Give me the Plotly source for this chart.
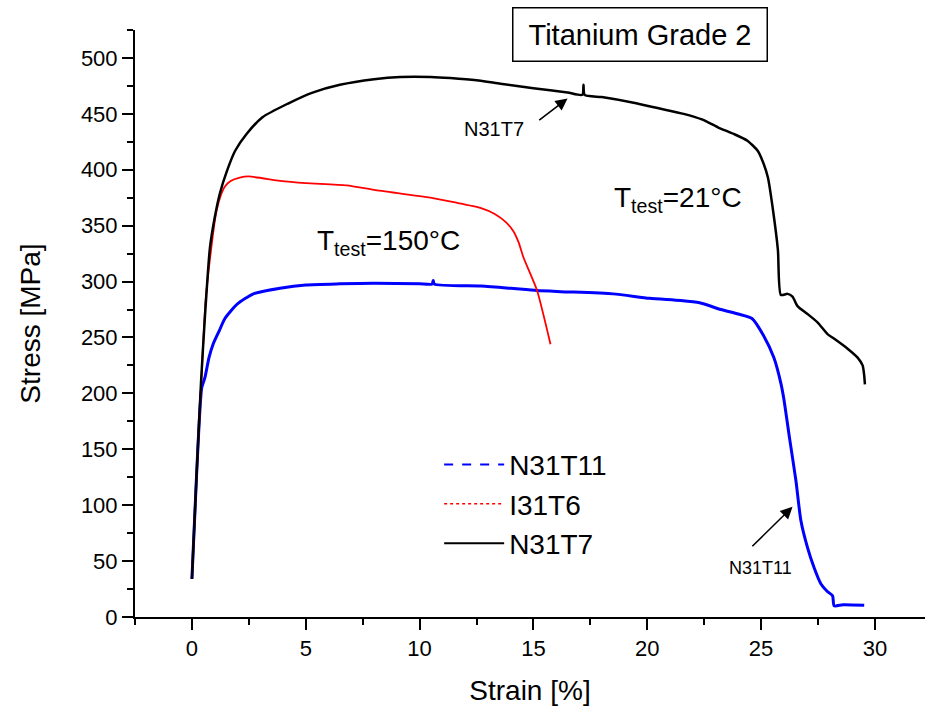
import plotly.graph_objects as go

# ---- data (strain in %, stress in MPa) ----
n31t7_strain = [0.0, 0.2, 0.4, 0.57, 0.79, 1.0, 1.23, 1.54, 1.9, 2.4, 3.1, 4.2, 5.3, 6.5, 8.0, 9.15,
                10.5, 11.35, 12.5, 13.55, 15.0, 16.5, 17.15, 17.2, 17.25, 18.0, 19.4, 20.5, 21.6, 22.4,
                23.1, 23.8, 24.4, 24.85, 25.1, 25.3, 25.55, 25.74, 25.87, 26.16, 26.38, 26.6, 27.04,
                27.48, 27.92, 28.2, 28.8, 29.24, 29.46, 29.53, 29.56]
n31t7_stress = [34, 125, 210, 268, 330, 357, 379, 399, 417, 432, 447, 459, 469, 476, 481, 483,
                483, 482, 480, 477, 473, 469, 467, 476, 467, 465, 460, 455, 450, 445,
                438, 432, 426, 417, 406, 393, 360, 328, 288, 289, 286.5, 278, 271,
                263.5, 253, 249, 240, 232, 225, 216, 208]

i31t6_strain = [0.0, 0.2, 0.4, 0.6, 0.85, 1.05, 1.25, 1.45, 1.7, 2.1, 2.5, 3.87, 5.0, 6.8, 8.0,
                10.47, 11.5, 12.67, 13.3, 13.8, 14.12, 14.35, 14.56, 15.16, 15.68, 15.75]
i31t6_stress = [34, 125, 205, 283, 330, 360, 376, 385, 390, 393, 394, 390, 388, 386, 382,
                375, 371, 366, 360.5, 353, 345, 335, 321.7, 292, 250, 244]

n31t11_strain = [0.0, 0.2, 0.43, 0.57, 0.75, 0.93, 1.2, 1.45, 2.0, 2.7, 3.87, 5.0, 6.5, 8.0, 10.0,
                 10.55, 10.6, 10.65, 12.7, 14.0, 15.16, 16.2, 18.5, 20.1, 21.47, 22.3, 23.23, 24.0,
                 24.6, 25.1, 25.56, 25.87, 26.0, 26.25, 26.53, 26.75, 27.04, 27.33, 27.63, 27.9,
                 28.14, 28.21, 28.6, 29.53]
n31t11_stress = [34, 125, 205, 214, 232, 244, 256, 267, 280, 289, 294, 297, 298, 298.5, 298,
                 297.8, 301, 297.7, 296, 294, 292, 291, 289, 285, 283, 281, 275, 271,
                 267, 252, 232, 209, 195, 160, 122, 86, 62, 44, 29.5, 23,
                 19, 10, 11, 10.5]

legend_names = ["N31T11", "I31T6", "N31T7"]
x_ticks = [0, 5, 10, 15, 20, 25, 30]
y_ticks = [0, 50, 100, 150, 200, 250, 300, 350, 400, 450, 500]

FONT = "Arial, 'Liberation Sans', sans-serif"

fig = go.Figure()

# curves (drawn solid, as they appear in the plot)
fig.add_trace(go.Scatter(x=n31t11_strain, y=n31t11_stress, mode="lines",
                         line=dict(color="#0000FF", width=3, shape="spline", smoothing=0.6),
                         showlegend=False))
fig.add_trace(go.Scatter(x=i31t6_strain, y=i31t6_stress, mode="lines",
                         line=dict(color="#FF0000", width=1.8, shape="spline", smoothing=0.6),
                         showlegend=False))
fig.add_trace(go.Scatter(x=n31t7_strain, y=n31t7_stress, mode="lines",
                         line=dict(color="#000000", width=2.5, shape="spline", smoothing=0.6),
                         showlegend=False))

# legend entries with the line styles shown in the legend
fig.add_trace(go.Scatter(x=[None], y=[None], mode="lines", name=legend_names[0],
                         line=dict(color="#0000FF", width=2, dash="dash")))
fig.add_trace(go.Scatter(x=[None], y=[None], mode="lines", name=legend_names[1],
                         line=dict(color="#FF0000", width=1.5, dash="dot")))
fig.add_trace(go.Scatter(x=[None], y=[None], mode="lines", name=legend_names[2],
                         line=dict(color="#000000", width=2)))

axis_common = dict(
    showline=True, linecolor="black", linewidth=2,
    ticks="outside", ticklen=11, tickwidth=2, tickcolor="black",
    showgrid=False, zeroline=False, mirror=False,
    tickfont=dict(family=FONT, size=22, color="black"),
)

fig.update_xaxes(range=[-2.5, 32.2], tickvals=x_ticks,
                 minor=dict(ticks="outside", ticklen=6, tickwidth=2, dtick=2.5, tick0=0,
                            tickcolor="black"),
                 title=dict(text="Strain [%]", font=dict(family=FONT, size=28, color="black"),
                            standoff=20),
                 **axis_common)
fig.update_yaxes(range=[0, 525], tickvals=y_ticks,
                 minor=dict(ticks="outside", ticklen=6, tickwidth=2, dtick=25, tick0=0,
                            tickcolor="black"),
                 title=dict(text="Stress [MPa]", font=dict(family=FONT, size=28, color="black"),
                            standoff=32),
                 **axis_common)

annotations = [
    dict(xref="paper", yref="paper", x=0.639, y=0.993, xanchor="center", yanchor="middle",
         text="Titanium Grade 2", showarrow=False,
         font=dict(family=FONT, size=29, color="black"),
         bordercolor="black", borderwidth=1.5, borderpad=5, bgcolor="white",
         width=243, height=42),
    dict(x=5.4, y=335, xanchor="left", yanchor="middle", showarrow=False,
         text="T<sub>test</sub>=150°C", font=dict(family=FONT, size=28, color="black")),
    dict(x=18.45, y=373, xanchor="left", yanchor="middle", showarrow=False,
         text="T<sub>test</sub>=21°C", font=dict(family=FONT, size=28, color="black")),
    dict(x=13.26, y=436.6, xanchor="center", yanchor="middle", showarrow=False,
         text="N31T7", font=dict(family=FONT, size=20, color="black")),
    dict(x=24.96, y=43.6, xanchor="center", yanchor="middle", showarrow=False,
         text="N31T11", font=dict(family=FONT, size=18, color="black")),
    dict(x=16.5, y=463.7, ax=15.19, ay=443.4, axref="x", ayref="y", text="",
         showarrow=True, arrowhead=2, arrowsize=1.5, arrowwidth=1.6, arrowcolor="black"),
    dict(x=26.38, y=98.5, ax=24.55, ay=62, axref="x", ayref="y", text="",
         showarrow=True, arrowhead=2, arrowsize=1.5, arrowwidth=1.6, arrowcolor="black"),
]

fig.update_layout(
    width=928, height=713,
    margin=dict(l=135, r=3, t=30, b=96),
    paper_bgcolor="white", plot_bgcolor="white",
    font=dict(family=FONT, color="black"),
    annotations=annotations,
    legend=dict(x=0.385, y=0.302, xanchor="left", yanchor="top",
                bgcolor="rgba(0,0,0,0)", borderwidth=0,
                font=dict(family=FONT, size=28, color="black"),
                itemwidth=60, tracegroupgap=0),
)

fig.write_html("out.html")
